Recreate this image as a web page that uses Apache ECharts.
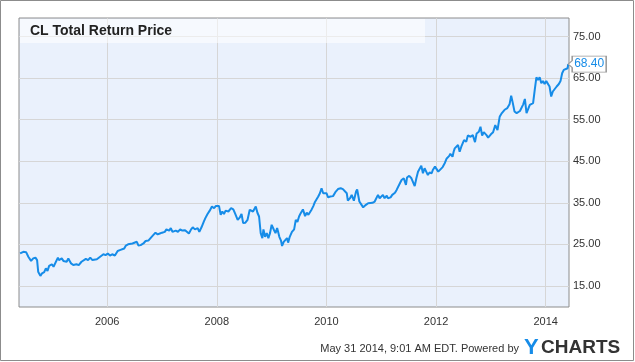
<!DOCTYPE html>
<html><head><meta charset="utf-8">
<script src="https://cdn.jsdelivr.net/npm/echarts@6/dist/echarts.min.js"></script>
<style>html,body{margin:0;padding:0;background:#fff}#c{width:635px;height:362px}</style>
</head><body><div id="c"></div>
<script>
const years = [
2004.41,2004.47,2004.52,2004.56,2004.61,2004.65,2004.69,2004.72,2004.74,2004.78,2004.81,2004.85,2004.88,2004.91,2004.94,2004.99,
2005.02,2005.05,2005.10,2005.12,2005.17,2005.20,2005.26,2005.29,2005.34,2005.38,2005.44,2005.48,2005.53,2005.56,2005.61,2005.65,2005.69,2005.73,2005.81,2005.87,2005.93,2005.97,
2006.01,2006.05,2006.09,2006.14,2006.19,2006.23,2006.26,2006.31,2006.34,2006.38,2006.41,2006.46,2006.49,2006.54,2006.57,2006.61,2006.66,2006.70,2006.75,2006.78,2006.81,2006.84,2006.88,2006.92,2006.96,
2007.00,2007.05,2007.08,2007.13,2007.16,2007.19,2007.22,2007.25,2007.29,2007.33,2007.37,2007.42,2007.45,2007.49,2007.53,2007.56,2007.60,2007.65,2007.68,2007.72,2007.76,2007.79,2007.83,2007.87,2007.91,2007.95,2007.98,
2008.01,2008.04,2008.07,2008.10,2008.13,2008.16,2008.21,2008.26,2008.30,2008.33,2008.38,2008.42,2008.45,2008.48,2008.52,2008.56,2008.60,2008.63,2008.66,2008.71,2008.74,2008.77,2008.80,2008.83,2008.85,2008.88,2008.91,2008.94,2008.97,
2009.00,2009.04,2009.07,2009.10,2009.14,2009.17,2009.19,2009.22,2009.25,2009.28,2009.30,2009.33,2009.37,2009.41,2009.44,2009.47,2009.50,2009.53,2009.56,2009.57,2009.61,2009.64,2009.67,2009.70,2009.73,2009.76,2009.79,2009.82,2009.85,2009.88,2009.91,2009.94,2009.97,
2010.00,2010.03,2010.07,2010.12,2010.17,2010.21,2010.26,2010.30,2010.33,2010.37,2010.39,2010.43,2010.46,2010.50,2010.54,2010.56,2010.60,2010.64,2010.67,2010.72,2010.76,2010.79,2010.84,2010.88,2010.91,2010.94,2010.97,
2011.00,2011.03,2011.06,2011.10,2011.12,2011.17,2011.20,2011.25,2011.28,2011.31,2011.34,2011.37,2011.41,2011.45,2011.47,2011.51,2011.55,2011.58,2011.61,2011.64,2011.67,2011.70,2011.73,2011.76,2011.79,2011.82,2011.85,2011.88,2011.92,2011.94,2011.98,
2012.01,2012.04,2012.07,2012.12,2012.16,2012.19,2012.24,2012.26,2012.30,2012.32,2012.34,2012.40,2012.43,2012.46,2012.51,2012.55,2012.58,2012.63,2012.67,2012.71,2012.74,2012.78,2012.81,2012.84,2012.87,2012.92,2012.95,
2013.00,2013.04,2013.08,2013.12,2013.16,2013.20,2013.25,2013.30,2013.34,2013.37,2013.40,2013.43,2013.47,2013.49,2013.53,2013.56,2013.59,2013.62,2013.65,2013.68,2013.71,2013.74,2013.77,2013.80,2013.83,2013.86,2013.89,2013.92,2013.95,2013.98,
2014.01,2014.04,2014.07,2014.10,2014.13,2014.16,2014.20,2014.24,2014.27,2014.30,2014.33,2014.36,2014.40,2014.41
];
const prices = [
22.8,23.2,23.1,22.0,21.0,21.6,21.8,21.2,18.4,17.4,18.0,18.3,19.2,18.6,19.8,20.2,
19.6,20.0,21.8,21.2,21.6,21.0,20.8,21.6,20.4,20.0,20.2,20.0,20.8,20.4,21.5,21.2,21.8,21.2,21.4,22.0,22.6,22.4,
22.8,22.3,22.6,22.3,23.4,23.6,24.0,24.0,24.7,25.0,24.8,25.2,24.8,25.6,24.7,24.8,25.2,25.8,25.9,25.6,26.8,27.2,27.8,27.4,27.6,
27.8,28.0,28.6,28.3,28.9,28.0,27.6,28.3,28.0,28.6,28.3,28.4,28.0,27.6,28.6,29.1,28.6,28.9,28.0,29.1,30.4,31.3,32.3,33.1,34.1,33.7,34.2,
33.9,34.2,32.1,32.9,32.3,33.1,32.9,33.7,33.4,32.5,30.9,31.5,32.3,30.1,30.2,30.9,33.3,33.7,32.9,34.1,32.6,31.7,27.7,26.5,28.6,26.8,27.7,26.5,27.7,
29.7,28.5,27.7,28.9,26.8,25.9,24.6,25.6,25.9,26.5,25.4,26.8,28.0,28.6,30.9,30.4,31.7,32.5,32.9,33.4,31.8,32.6,32.1,32.3,33.4,34.2,35.2,35.0,36.5,37.3,38.5,37.3,37.7,
37.3,36.3,36.5,36.6,37.7,38.3,38.5,38.3,38.0,37.3,35.5,36.1,36.9,35.5,37.7,38.2,35.3,34.5,33.9,34.5,34.9,35.3,35.0,35.3,34.9,36.9,36.1,
35.8,36.9,36.1,36.7,36.1,36.3,36.9,37.4,38.1,38.5,39.7,40.5,40.9,39.3,41.1,41.5,40.9,41.3,39.0,40.9,42.5,42.3,43.9,42.1,43.3,42.5,41.7,42.3,42.1,42.9,43.7,
43.3,42.5,42.1,43.6,44.6,45.6,46.3,46.8,46.1,47.3,48.1,48.9,47.3,48.5,50.1,49.7,51.2,50.9,51.3,49.6,51.7,52.1,53.3,51.2,52.0,51.3,50.7,
51.5,52.0,53.7,52.5,55.7,56.6,57.4,57.8,58.7,60.8,59.0,57.0,56.6,56.2,57.1,57.4,58.7,60.0,56.6,56.2,58.6,58.7,59.0,62.2,65.2,64.6,65.2,63.8,64.3,63.6,
64.3,64.6,63.0,60.6,61.8,62.2,63.0,63.6,64.3,66.2,67.0,66.6,67.4,68.4
];
const xTicks = [2006, 2008, 2010, 2012, 2014];
const yTicks = [15, 25, 35, 45, 55, 65, 75];
const titleText = 'CL Total Return Price';
const footerText = 'May 31 2014, 9:01 AM EDT. Powered by';

const FONT = '"Liberation Sans", Arial, sans-serif';
const BLUE = '#168ce8';
const data = years.map((y, i) => [y, prices[i]]);
const last = data[data.length - 1];

const chart = echarts.init(document.getElementById('c'), null, {renderer: 'canvas'});
chart.setOption({
  animation: false,
  grid: {left: 19, right: 66, top: 18, bottom: 55, show: true, backgroundColor: '#eaf1fc', borderColor: '#8c8c8c', borderWidth: 1},
  xAxis: {
    type: 'value', min: 2004.39, max: 2014.425,
    axisLine: {show: false},
    axisTick: {show: false, customValues: xTicks},
    splitLine: {show: true, lineStyle: {color: '#d6d6d6', width: 1}},
    axisLabel: {customValues: xTicks, margin: 9, color: '#333', fontSize: 11, fontFamily: FONT, formatter: v => String(Math.round(v))}
  },
  yAxis: {
    type: 'value', position: 'right', min: 9.9, max: 79.5,
    axisLine: {show: false},
    axisTick: {show: false, customValues: yTicks},
    splitLine: {show: true, lineStyle: {color: '#d6d6d6', width: 1}},
    axisLabel: {customValues: yTicks, margin: 4, color: '#333', fontSize: 11, fontFamily: FONT, formatter: v => v.toFixed(2)}
  },
  series: [{
    type: 'line', data: data, showSymbol: false, symbol: 'none',
    lineStyle: {color: BLUE, width: 2}, z: 3,
    markPoint: {
      symbol: 'path://M0,8L4,4.5L4,0L38,0L38,16L4,16L4,11.5Z',
      symbolSize: [38, 16], symbolOffset: [19, 0], symbolKeepAspect: false,
      itemStyle: {color: '#ffffff', borderColor: '#999999', borderWidth: 1},
      label: {show: true, position: 'inside', offset: [2, 0], color: BLUE, fontSize: 12, fontFamily: FONT, formatter: p => p.data.coord[1].toFixed(2)},
      data: [{coord: last}]
    }
  }],
  graphic: [
    {type: 'rect', shape: {x: 0.5, y: 0.5, width: 633, height: 360}, style: {fill: 'none', stroke: '#8c8c8c', lineWidth: 1}, silent: true},
    {type: 'rect', shape: {x: 20, y: 19, width: 405, height: 24}, style: {fill: 'rgba(255,255,255,0.55)'}, z: 10, silent: true},
    {type: 'text', x: 30, y: 31, style: {text: titleText, fill: '#222', font: 'bold 14px ' + FONT, textVerticalAlign: 'middle'}, z: 11},
    {type: 'text', x: 519, y: 349, style: {text: footerText, fill: '#333', font: '11px ' + FONT, textAlign: 'right', textVerticalAlign: 'middle'}},
    {type: 'text', x: 524, y: 348, style: {text: 'Y', fill: BLUE, font: 'bold 22px ' + FONT, textVerticalAlign: 'middle'}},
    {type: 'text', x: 541, y: 348, style: {text: 'CHARTS', fill: '#333', font: 'bold 19px ' + FONT, textVerticalAlign: 'middle'}}
  ]
});
</script>
</body></html>
